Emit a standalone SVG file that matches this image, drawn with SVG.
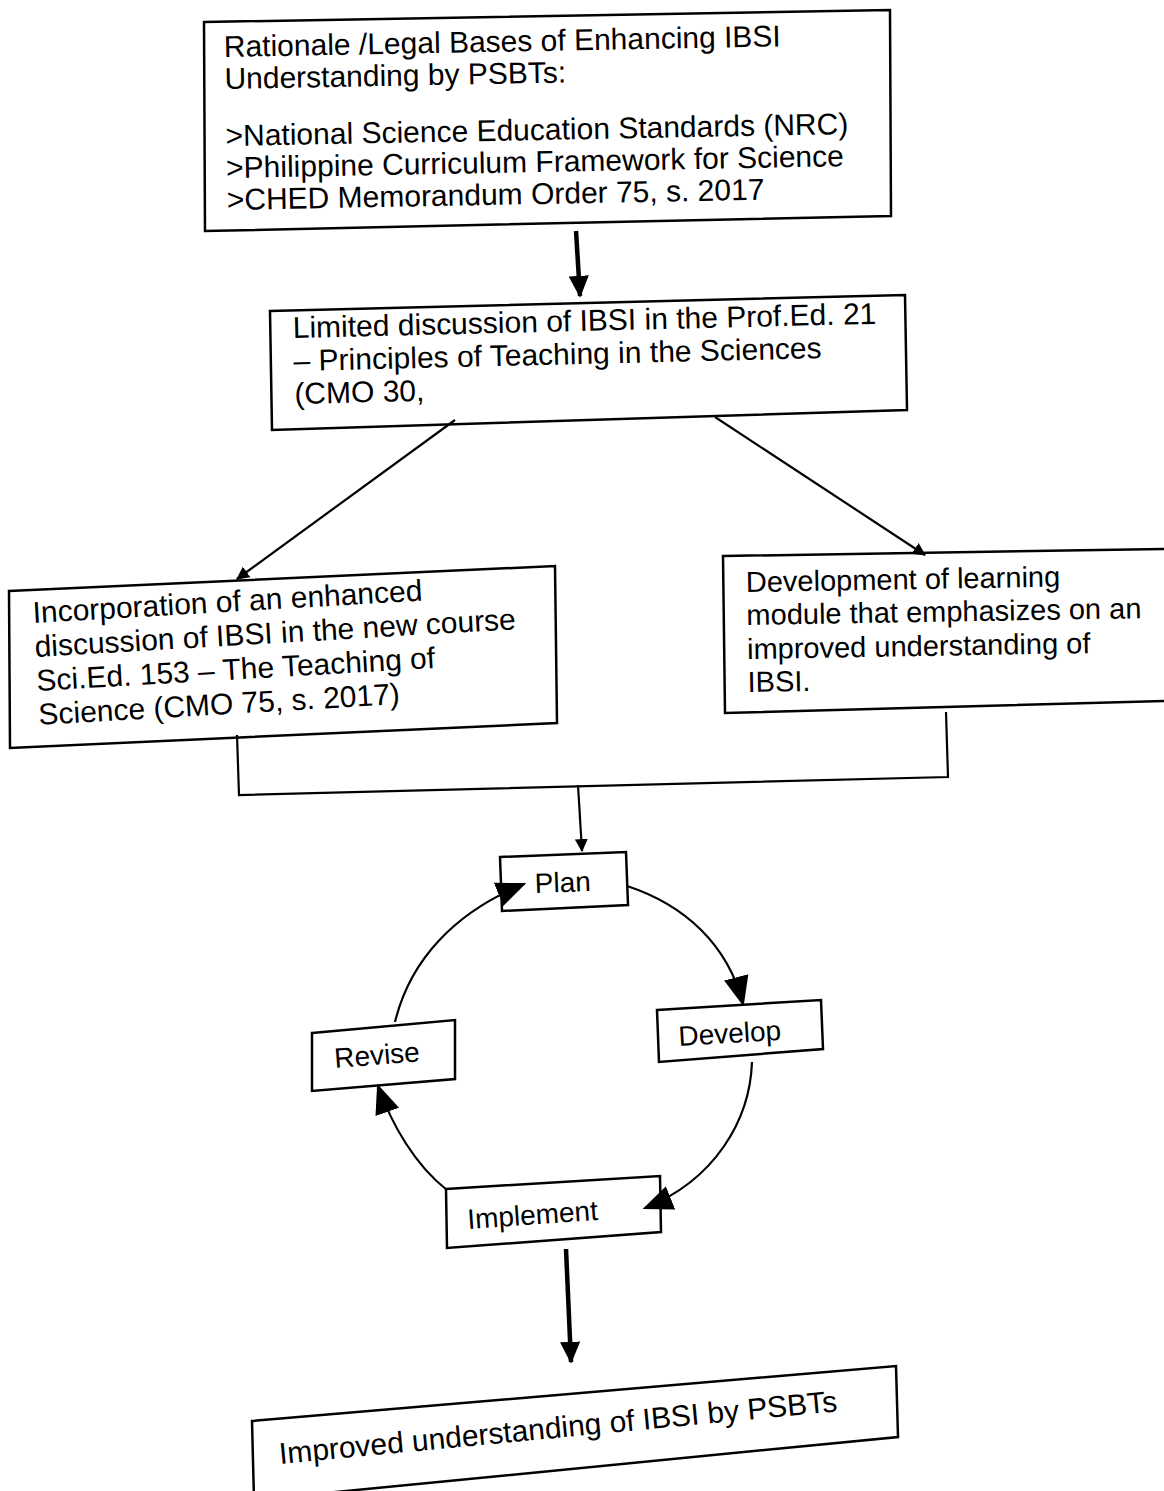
<svg xmlns="http://www.w3.org/2000/svg" width="1164" height="1491" viewBox="0 0 1164 1491">
  <style>
    .box { fill: #ffffff; stroke: #000000; stroke-width: 2.5; }
    .t { font-family: "Liberation Sans", Arial, sans-serif; font-size: 30px; fill: #000000; }
    .tm { font-family: "Liberation Sans", Arial, sans-serif; font-size: 29px; fill: #000000; }
    .ts { font-family: "Liberation Sans", Arial, sans-serif; font-size: 28px; fill: #000000; }
    .ln { fill: none; stroke: #000000; stroke-width: 2.2; }
    .thick { fill: none; stroke: #000000; stroke-width: 4.5; }
  </style>
  <defs>
    <marker id="head" viewBox="0 0 12 12" refX="11" refY="6" markerWidth="13" markerHeight="13" markerUnits="userSpaceOnUse" orient="auto">
      <path d="M0,0 L12,6 L0,12 Z" fill="#000000"/>
    </marker>
    <marker id="headBig" viewBox="0 0 12 12" refX="11" refY="6" markerWidth="30" markerHeight="30" markerUnits="userSpaceOnUse" orient="auto">
      <path d="M0,1 L12,6 L0,11 Z" fill="#000000"/>
    </marker>
    <marker id="headThick" viewBox="0 0 12 12" refX="11" refY="6" markerWidth="22" markerHeight="22" markerUnits="userSpaceOnUse" orient="auto">
      <path d="M0,0.5 L12,6 L0,11.5 Z" fill="#000000"/>
    </marker>
  </defs>

  <rect width="1164" height="1491" fill="#ffffff"/>

  <g id="rationale">
    <polygon class="box" points="204,22 890,10 891,216 205,231"/>
    <g transform="rotate(-1.1 224 56)">
      <text class="t" x="224" y="57">Rationale /Legal Bases of Enhancing IBSI</text>
      <text class="t" x="224" y="89">Understanding by PSBTs:</text>
      <text class="t" x="224" y="146">&gt;National Science Education Standards (NRC)</text>
      <text class="t" x="224" y="178">&gt;Philippine Curriculum Framework for Science</text>
      <text class="t" x="224" y="210">&gt;CHED Memorandum Order 75, s. 2017</text>
    </g>
  </g>

  <g id="limited">
    <polygon class="box" points="270,311 905,295 907,410 272,430"/>
    <g transform="rotate(-1.4 293 337)">
      <text class="t" x="293" y="338">Limited discussion of IBSI in the Prof.Ed. 21</text>
      <text class="t" x="293" y="371">– Principles of Teaching in the Sciences</text>
      <text class="t" x="293" y="404">(CMO 30,</text>
    </g>
  </g>

  <g id="incorporation">
    <polygon class="box" points="9,591 555,566 557,723 10,748"/>
    <g transform="rotate(-3.3 33 620)">
      <text class="t" x="33" y="623">Incorporation of an enhanced</text>
      <text class="t" x="33" y="657">discussion of IBSI in the new course</text>
      <text class="t" x="33" y="691">Sci.Ed. 153 – The Teaching of</text>
      <text class="t" x="33" y="725">Science (CMO 75, s. 2017)</text>
    </g>
  </g>

  <g id="development">
    <polygon class="box" points="723,556 1166,549 1166,701 725,713"/>
    <g transform="rotate(-1 746 590)">
      <text class="tm" x="746" y="592">Development of learning</text>
      <text class="tm" x="746" y="625">module that emphasizes on an</text>
      <text class="tm" x="746" y="659">improved understanding of</text>
      <text class="tm" x="746" y="692">IBSI.</text>
    </g>
  </g>

  <g id="plan">
    <polygon class="box" points="500,857 626,852 628,905 502,911"/>
    <text class="ts" x="535" y="893" transform="rotate(-2 535 893)">Plan</text>
  </g>

  <g id="develop">
    <polygon class="box" points="657,1010 821,1000 823,1049 659,1062"/>
    <text class="ts" x="679" y="1046" transform="rotate(-3.5 679 1046)">Develop</text>
  </g>

  <g id="revise">
    <polygon class="box" points="312,1033 455,1020 455,1079 312,1091"/>
    <text class="ts" x="335" y="1068" transform="rotate(-4.5 335 1068)">Revise</text>
  </g>

  <g id="implement">
    <polygon class="box" points="446,1189 660,1176 661,1232 447,1248"/>
    <text class="ts" x="468" y="1229" transform="rotate(-4 468 1229)">Implement</text>
  </g>

  <g id="improved">
    <polygon class="box" points="252,1421 896,1366 898,1437 254,1500"/>
    <text class="t" x="280" y="1464" transform="rotate(-5.4 280 1464)">Improved understanding of IBSI by PSBTs</text>
  </g>

  <!-- connectors, drawn over the boxes so arrowheads that reach inside stay visible -->
  <g id="connectors">
    <line class="thick" x1="576" y1="231" x2="580" y2="296" marker-end="url(#headThick)"/>
    <line class="ln" x1="455" y1="420" x2="237" y2="579" marker-end="url(#head)"/>
    <line class="ln" x1="715" y1="417" x2="925" y2="555" marker-end="url(#head)"/>
    <polyline class="ln" points="237,735 239,795 948,777 946,712"/>
    <line class="ln" x1="578" y1="785" x2="582" y2="851" marker-end="url(#head)"/>
    <!-- plan-develop-implement-revise cycle -->
    <path class="ln" d="M627,886 C685,905 728,945 743,1004" marker-end="url(#headBig)"/>
    <path class="ln" d="M752,1062 C750,1120 715,1180 645,1208" marker-end="url(#headBig)"/>
    <path class="ln" d="M447,1190 C415,1165 392,1125 378,1086" marker-end="url(#headBig)"/>
    <path class="ln" d="M395,1022 C410,960 455,912 524,884" marker-end="url(#headBig)"/>
    <line class="thick" x1="566" y1="1249" x2="571" y2="1362" marker-end="url(#headThick)"/>
  </g>
</svg>
